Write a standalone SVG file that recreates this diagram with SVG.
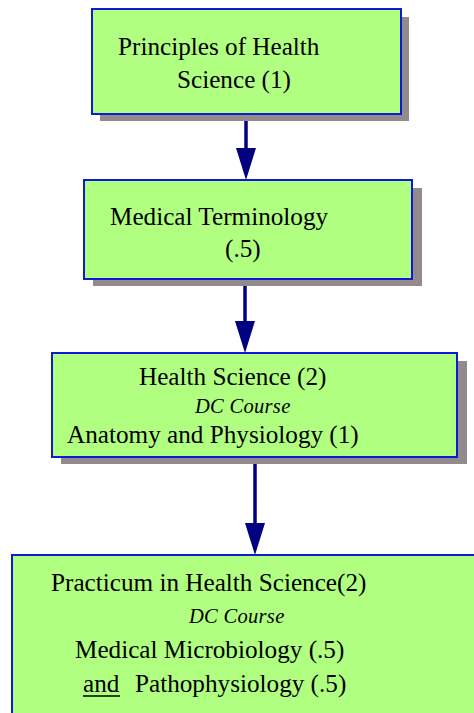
<svg xmlns="http://www.w3.org/2000/svg" width="474" height="713" viewBox="0 0 474 713">
<style>
.shadow{fill:#938b8b}
.box{fill:#b1ff80;stroke:#0d1ad8;stroke-width:2}
.t{font-family:"Liberation Serif","Times New Roman",serif;font-size:25.2px;fill:#000}
.i{font-family:"Liberation Serif","Times New Roman",serif;font-size:20.5px;font-style:italic;letter-spacing:0.3px;fill:#000}
.conn{stroke:#000080;stroke-width:3.5;fill:none}
.head{fill:#000080}
</style>
<rect width="474" height="713" fill="#fff"/>
<g id="connectors">
<line class="conn" x1="246" y1="120" x2="246" y2="148"/>
<path class="head" d="M236,148 L256,148 L246,180 Z"/>
<line class="conn" x1="245" y1="286" x2="245" y2="321"/>
<path class="head" d="M235,321 L255,321 L245,353 Z"/>
<line class="conn" x1="255" y1="464" x2="255" y2="523"/>
<path class="head" d="M245,523 L265,523 L255,555 Z"/>
</g>
<g id="node1">
<rect class="shadow" x="100" y="17" width="309" height="104"/>
<rect class="box" x="92" y="9" width="309" height="105"/>
<text class="t" x="118" y="55">Principles of Health</text>
<text class="t" x="177" y="88">Science (1)</text>
</g>
<g id="node2">
<rect class="shadow" x="93" y="188" width="329" height="98"/>
<rect class="box" x="84" y="180" width="328" height="99"/>
<text class="t" x="110" y="225">Medical Terminology</text>
<text class="t" x="225" y="257">(.5)</text>
</g>
<g id="node3">
<rect class="shadow" x="61" y="361" width="406" height="103"/>
<rect class="box" x="52" y="353" width="405" height="104"/>
<text class="t" x="139" y="385">Health Science (2)</text>
<text class="i" x="195" y="413">DC Course</text>
<text class="t" x="67" y="443">Anatomy and Physiology (1)</text>
</g>
<g id="node4">
<rect class="box" x="12" y="555" width="470" height="170"/>
<text class="t" x="51" y="591">Practicum in Health Science(2)</text>
<text class="i" x="189" y="623">DC Course</text>
<text class="t" x="75" y="658">Medical Microbiology (.5)</text>
<text class="t" x="83" y="692">and</text>
<line x1="83" y1="696" x2="120" y2="696" stroke="#000" stroke-width="1.6"/>
<text class="t" x="135" y="692">Pathophysiology (.5)</text>
</g>
</svg>
